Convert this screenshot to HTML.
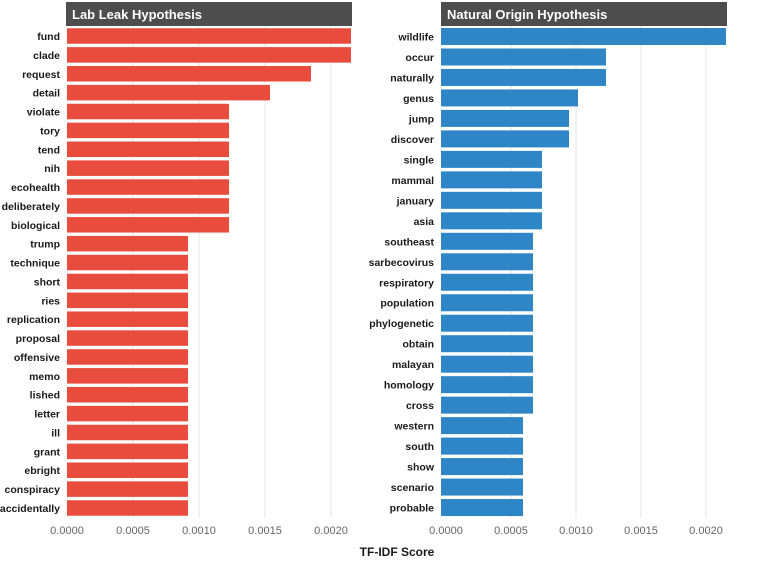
<!DOCTYPE html>
<html><head><meta charset="utf-8"><style>
body{margin:0;background:#fff}
text{font-family:"Liberation Sans",Arial,sans-serif}
.l{font-size:10.5px;font-weight:bold;fill:#1a1a1a;text-anchor:end}
.t{font-size:11px;fill:#666;text-anchor:middle}
</style></head><body>
<svg width="774" height="559" xmlns="http://www.w3.org/2000/svg">
<g stroke="#e6e6e6" stroke-width="1">
<line x1="133" y1="26" x2="133" y2="518"/><line x1="199" y1="26" x2="199" y2="518"/><line x1="265" y1="26" x2="265" y2="518"/><line x1="331" y1="26" x2="331" y2="518"/>
<line x1="511" y1="26" x2="511" y2="518"/><line x1="576" y1="26" x2="576" y2="518"/><line x1="641" y1="26" x2="641" y2="518"/><line x1="706" y1="26" x2="706" y2="518"/>
</g>
<rect x="66" y="2" width="286" height="24" fill="#4d4d4d"/>
<text x="72" y="19" fill="#fff" font-size="13" font-weight="bold">Lab Leak Hypothesis</text>
<rect x="441" y="2" width="286" height="24" fill="#4d4d4d"/>
<text x="447" y="19" fill="#fff" font-size="13" font-weight="bold">Natural Origin Hypothesis</text>
<g id="L"></g><g id="R"></g>
<g class="t">
<text x="67" y="534" class="t">0.0000</text><text x="133" y="534" class="t">0.0005</text><text x="199" y="534" class="t">0.0010</text><text x="265" y="534" class="t">0.0015</text><text x="331" y="534" class="t">0.0020</text>
<text x="446" y="534" class="t">0.0000</text><text x="511" y="534" class="t">0.0005</text><text x="576" y="534" class="t">0.0010</text><text x="641" y="534" class="t">0.0015</text><text x="706" y="534" class="t">0.0020</text>
</g>
<text x="397" y="556" font-size="12" font-weight="bold" text-anchor="middle" fill="#1a1a1a">TF-IDF Score</text>
<script>
var ns="http://www.w3.org/2000/svg";
function draw(id,x0,lx,col,data,y0,p,h){var g=document.getElementById(id);data.forEach(function(d,i){var cy=y0+i*p;var r=document.createElementNS(ns,"rect");r.setAttribute("x",x0);r.setAttribute("y",cy-h/2);r.setAttribute("width",d[1]-x0);r.setAttribute("height",h);r.setAttribute("fill",col);g.appendChild(r);var t=document.createElementNS(ns,"text");t.setAttribute("x",lx);t.setAttribute("y",cy+4);t.setAttribute("class","l");t.textContent=d[0];g.appendChild(t);});}
var L=[["fund",351],["clade",351],["request",311],["detail",270]];
["violate","tory","tend","nih","ecohealth","deliberately","biological"].forEach(function(w){L.push([w,229])});
["trump","technique","short","ries","replication","proposal","offensive","memo","lished","letter","ill","grant","ebright","conspiracy","accidentally"].forEach(function(w){L.push([w,188])});
draw("L",67,60,"#e84c3d",L,36,18.88,15.5);
var R=[["wildlife",726],["occur",606],["naturally",606],["genus",578],["jump",569],["discover",569]];
["single","mammal","january","asia"].forEach(function(w){R.push([w,542])});
["southeast","sarbecovirus","respiratory","population","phylogenetic","obtain","malayan","homology","cross"].forEach(function(w){R.push([w,533])});
["western","south","show","scenario","probable"].forEach(function(w){R.push([w,523])});
draw("R",441,434,"#2e86c6",R,36.5,20.48,17);
</script>
</svg>
</body></html>
